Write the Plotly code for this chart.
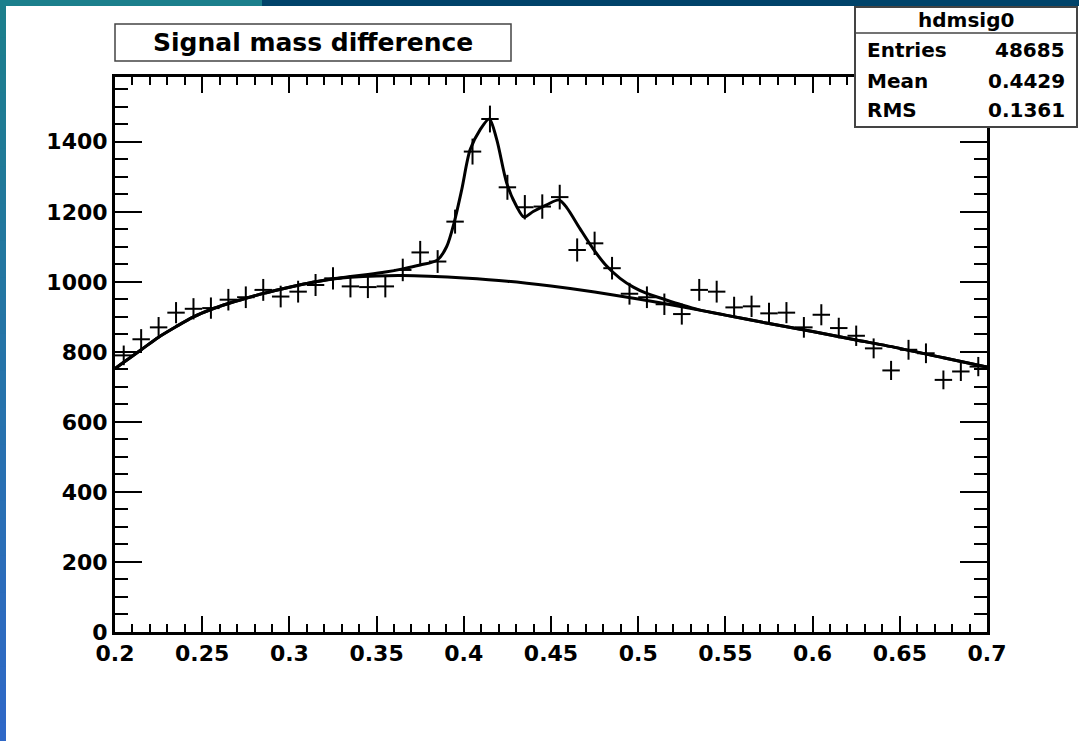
import numpy as np
import plotly.graph_objects as go

# ---------------- data ----------------
bin_centers = [0.205, 0.215, 0.225, 0.235, 0.245, 0.255, 0.265, 0.275, 0.285, 0.295,
               0.305, 0.315, 0.325, 0.335, 0.345, 0.355, 0.365, 0.375, 0.385, 0.395,
               0.405, 0.415, 0.425, 0.435, 0.445, 0.455, 0.465, 0.475, 0.485, 0.495,
               0.505, 0.515, 0.525, 0.535, 0.545, 0.555, 0.565, 0.575, 0.585, 0.595,
               0.605, 0.615, 0.625, 0.635, 0.645, 0.655, 0.665, 0.675, 0.685, 0.695]
counts = [790, 836, 870, 912, 923, 925, 949, 956, 977, 958,
          972, 991, 1010, 987, 985, 987, 1034, 1084, 1058, 1172,
          1372, 1465, 1270, 1213, 1215, 1242, 1091, 1110, 1039, 966,
          956, 936, 908, 977, 972, 927, 930, 910, 912, 870,
          906, 868, 846, 810, 747, 806, 796, 720, 744, 758]
bin_half_width = 0.005

bkg_x = [0.200, 0.203, 0.215, 0.225, 0.235, 0.245, 0.255, 0.265, 0.275, 0.285,
         0.295, 0.305, 0.315, 0.325, 0.335, 0.350, 0.365, 0.380, 0.400, 0.425,
         0.450, 0.475, 0.500, 0.525, 0.550, 0.575, 0.600, 0.625, 0.650, 0.675, 0.700]
bkg_y = [752, 763, 806, 842, 872, 900, 921, 938, 953, 967,
         979, 990, 1000, 1008, 1013, 1017, 1018, 1016, 1011, 1002,
         988, 971, 951, 929, 905, 881, 858, 834, 810, 783, 757]

fit_x = [0.200, 0.203, 0.215, 0.225, 0.235, 0.245, 0.255, 0.265, 0.275, 0.285,
         0.295, 0.305, 0.315, 0.325, 0.335, 0.345, 0.355, 0.365, 0.375, 0.3848,
         0.3902, 0.3944, 0.3988, 0.4036, 0.4093, 0.4146, 0.4189, 0.4246, 0.4303, 0.4345,
         0.4398, 0.4475, 0.4546, 0.4590, 0.4666, 0.4742, 0.4819, 0.4896, 0.4972, 0.5049,
         0.515, 0.525, 0.535, 0.550, 0.575, 0.600, 0.625, 0.650, 0.675, 0.700]
fit_y = [752, 763, 806, 842, 872, 900, 921, 938, 953, 967,
         979, 990, 1000, 1009, 1015, 1021, 1028, 1037, 1048, 1062,
         1101, 1168, 1263, 1377, 1434, 1465, 1406, 1282, 1215, 1185,
         1201, 1220, 1234, 1212, 1152, 1094, 1045, 1010, 985, 967,
         950, 934, 920, 905, 881, 858, 834, 810, 783, 757]

x_tick_vals = [0.2, 0.25, 0.3, 0.35, 0.4, 0.45, 0.5, 0.55, 0.6, 0.65, 0.7]
x_tick_text = ["0.2", "0.25", "0.3", "0.35", "0.4", "0.45", "0.5", "0.55", "0.6", "0.65", "0.7"]
y_tick_vals = [0, 200, 400, 600, 800, 1000, 1200, 1400]
y_tick_text = ["0", "200", "400", "600", "800", "1000", "1200", "1400"]

title_text = "Signal mass difference"
stats_name = "hdmsig0"
stats_labels = ["Entries", "Mean", "RMS"]
stats_values = ["48685", "0.4429", "0.1361"]

# ---------------- layout geometry (pixels) ----------------
W, H = 1079, 741
L, R, T, B = 115, 987, 77, 632
FONT = "DejaVu Sans"


def px(xp):
    return (xp - L) / (R - L)


def py(yp):
    return (B - yp) / (B - T)


fig = go.Figure()

# data points with error bars (crosses)
fig.add_trace(go.Scatter(
    x=bin_centers, y=counts, mode="markers",
    marker=dict(size=1, color="black"),
    error_x=dict(type="constant", value=bin_half_width, color="black", thickness=2, width=0),
    error_y=dict(type="data", array=np.sqrt(counts), color="black", thickness=2, width=0),
    showlegend=False, hoverinfo="x+y"))

# background fit
fig.add_trace(go.Scatter(x=bkg_x, y=bkg_y, mode="lines",
                         line=dict(color="black", width=3, shape="spline", smoothing=0.8),
                         showlegend=False))
# total fit
fig.add_trace(go.Scatter(x=fit_x, y=fit_y, mode="lines",
                         line=dict(color="black", width=3, shape="spline", smoothing=0.8),
                         showlegend=False))

shapes = []
# left gradient strip
top_c = np.array([0x1C, 0x7F, 0x8B])
bot_c = np.array([0x30, 0x68, 0xC8])
nseg = 40
for i in range(nseg):
    y0 = H * i / nseg
    y1 = H * (i + 1) / nseg + 1
    c = top_c + (bot_c - top_c) * (i + 0.5) / nseg
    col = "rgb(%d,%d,%d)" % tuple(int(v) for v in c)
    shapes.append(dict(type="rect", xref="paper", yref="paper", x0=px(0), x1=px(6),
                       y0=py(y0), y1=py(y1), fillcolor=col, line=dict(width=0), layer="above"))
# top strip
shapes.append(dict(type="rect", xref="paper", yref="paper", x0=px(0), x1=px(262),
                   y0=py(0), y1=py(6), fillcolor="#1B7F8C", line=dict(width=0), layer="above"))
shapes.append(dict(type="rect", xref="paper", yref="paper", x0=px(262), x1=px(W),
                   y0=py(0), y1=py(6), fillcolor="#00436A", line=dict(width=0), layer="above"))

# title box
shapes.append(dict(type="rect", xref="paper", yref="paper", x0=px(115), x1=px(511),
                   y0=py(24), y1=py(61), fillcolor="white", line=dict(color="#444", width=1.5),
                   layer="above"))
# stats box
shapes.append(dict(type="rect", xref="paper", yref="paper", x0=px(855), x1=px(1077),
                   y0=py(7), y1=py(127), fillcolor="white", line=dict(color="#444", width=2),
                   layer="above"))
shapes.append(dict(type="line", xref="paper", yref="paper", x0=px(855), x1=px(1077),
                   y0=py(33), y1=py(33), line=dict(color="#444", width=1.5), layer="above"))

annotations = [
    dict(text=title_text, xref="paper", yref="paper", x=px(313), y=py(43),
         showarrow=False, xanchor="center", yanchor="middle",
         font=dict(family=FONT, size=25, color="black", weight="bold")),
    dict(text=stats_name, xref="paper", yref="paper", x=px(966), y=py(20),
         showarrow=False, xanchor="center", yanchor="middle",
         font=dict(family=FONT, size=20, color="black", weight="bold")),
]
for lab, val, yy in zip(stats_labels, stats_values, [50, 81, 110]):
    annotations.append(dict(text=lab, xref="paper", yref="paper", x=px(865), y=py(yy),
                            showarrow=False, xanchor="left", yanchor="middle",
                            font=dict(family=FONT, size=20, color="black", weight="bold")))
    annotations.append(dict(text=val, xref="paper", yref="paper", x=px(1067), y=py(yy),
                            showarrow=False, xanchor="right", yanchor="middle",
                            font=dict(family=FONT, size=20, color="black", weight="bold")))

tickfont = dict(family=FONT, size=22, color="black", weight="bold")

fig.update_layout(
    width=W, height=H,
    margin=dict(l=L, r=W - R, t=T, b=H - B, pad=0),
    paper_bgcolor="white", plot_bgcolor="white",
    shapes=shapes, annotations=annotations,
    xaxis=dict(range=[0.2, 0.7], showgrid=False, zeroline=False,
               showline=True, linecolor="black", linewidth=3, mirror="ticks",
               ticks="inside", ticklen=16, tickwidth=2, tickcolor="black",
               tickvals=x_tick_vals, ticktext=x_tick_text, tickfont=tickfont,
               minor=dict(ticks="inside", dtick=0.01, tick0=0.2, ticklen=8,
                          tickwidth=1.5, tickcolor="black", showgrid=False)),
    yaxis=dict(range=[0, 1585], showgrid=False, zeroline=False,
               showline=True, linecolor="black", linewidth=3, mirror="ticks",
               ticks="inside", ticklen=27, tickwidth=2, tickcolor="black",
               tickvals=y_tick_vals, ticktext=y_tick_text, tickfont=tickfont,
               minor=dict(ticks="inside", dtick=50, tick0=0, ticklen=13,
                          tickwidth=1.5, tickcolor="black", showgrid=False)),
)

fig.write_html("out.html")
